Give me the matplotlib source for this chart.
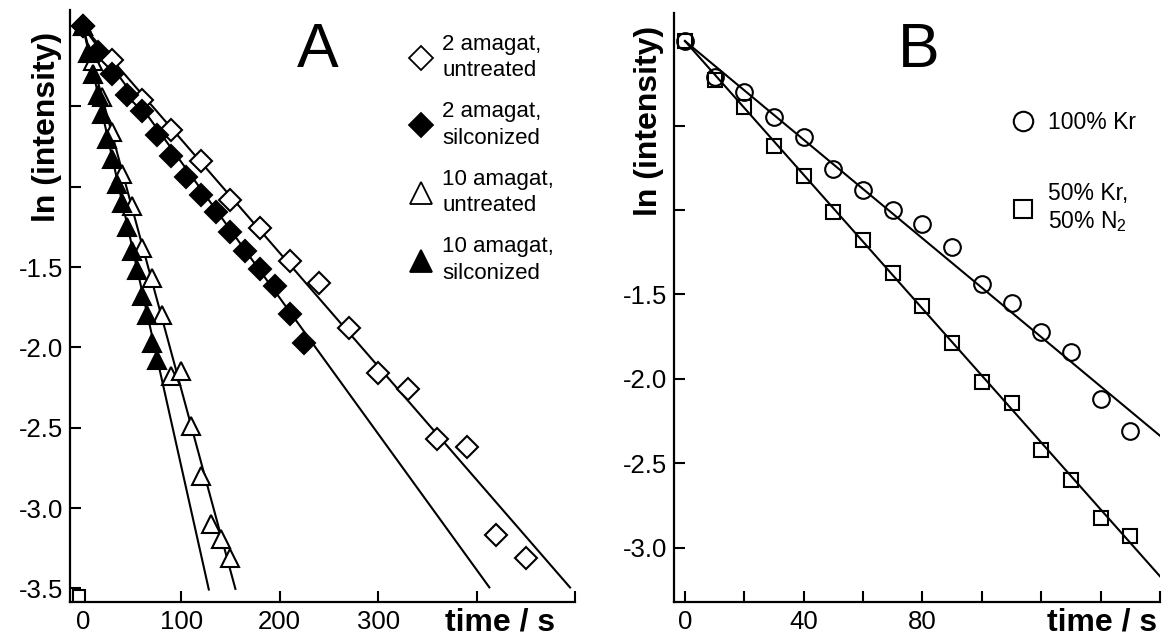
import numpy as np
import matplotlib.pyplot as plt
from matplotlib.lines import Line2D

plt.rcParams['font.family'] = ['Liberation Sans', 'DejaVu Sans']

# ----- Panel A: Xe in cells, ln(intensity) vs time -----
t_2u = [0, 30, 60, 90, 120, 150, 180, 210, 240, 270, 300, 330, 360, 390, 420, 450]
y_2u = [0, -0.21, -0.46, -0.65, -0.84, -1.08, -1.26, -1.46, -1.60, -1.88,
        -2.16, -2.26, -2.57, -2.62, -3.17, -3.31]

t_2s = [0, 15, 30, 45, 60, 75, 90, 105, 120, 135, 150, 165, 180, 195, 210, 225]
y_2s = [0, -0.16, -0.30, -0.43, -0.53, -0.68, -0.81, -0.94, -1.05, -1.16,
        -1.28, -1.40, -1.51, -1.62, -1.79, -1.97]

t_10u = [0, 10, 20, 30, 40, 50, 60, 70, 80, 90, 100, 110, 120, 130, 140, 150]
y_10u = [0, -0.22, -0.44, -0.66, -0.92, -1.12, -1.38, -1.57, -1.80, -2.18,
         -2.15, -2.49, -2.80, -3.10, -3.19, -3.31]

t_10s = [0, 5, 10, 15, 20, 25, 30, 35, 40, 45, 50, 55, 60, 65, 70, 75]
y_10s = [0, -0.17, -0.30, -0.43, -0.55, -0.70, -0.83, -0.98, -1.10, -1.25,
         -1.40, -1.52, -1.68, -1.80, -1.97, -2.08]

# fitted lines: slope, end time
fit_slope_A = [-0.00706, -0.00846, -0.0226, -0.0274]
fit_end_A = [495, 413, 155, 128]

corner_mark = ([-4], [-3.545])

labels_A = ["2 amagat,\nuntreated", "2 amagat,\nsilconized",
            "10 amagat,\nuntreated", "10 amagat,\nsilconized"]

# ----- Panel B: Kr mixtures -----
t_kr = [0, 10, 20, 30, 40, 50, 60, 70, 80, 90, 100, 110, 120, 130, 140, 150]
y_kr = [0, -0.21, -0.30, -0.45, -0.57, -0.76, -0.88, -1.00, -1.08, -1.22,
        -1.44, -1.55, -1.72, -1.84, -2.12, -2.31]

t_mix = [0, 10, 20, 30, 40, 50, 60, 70, 80, 90, 100, 110, 120, 130, 140, 150]
y_mix = [0, -0.23, -0.39, -0.62, -0.80, -1.01, -1.18, -1.37, -1.57, -1.79,
         -2.02, -2.14, -2.42, -2.60, -2.82, -2.93]

fit_slope_B = [-0.0146, -0.0198]
fit_end_B = [160, 160]

labels_B = ["100% Kr", "50% Kr,\n50% N$_\\mathregular{2}$"]

fig = plt.figure(figsize=(11.69, 6.36), dpi=100)
axA = fig.add_axes([70 / 1169, 1 - 602 / 636, 505 / 1169, 592 / 636])
axB = fig.add_axes([674 / 1169, 1 - 602 / 636, 486 / 1169, 589 / 636])

lw = 1.5
styles_A = [dict(marker='D', mfc='white', ms=11),
            dict(marker='D', mfc='black', ms=11),
            dict(marker='^', mfc='white', ms=12.5),
            dict(marker='^', mfc='black', ms=12.5)]
series_A = [(t_2u, y_2u), (t_2s, y_2s), (t_10u, y_10u), (t_10s, y_10s)]

for k in range(len(series_A)):
    tl = np.array([0, fit_end_A[k]])
    axA.plot(tl, fit_slope_A[k] * tl, color='black', lw=lw, zorder=2)
for st, (tt, yy) in zip(styles_A, series_A):
    axA.plot(tt, yy, ls='none', mec='black', mew=lw, zorder=3, **st)
axA.plot(*corner_mark, ls='none', marker='s', ms=8, mfc='white', mec='black', mew=lw)

for k, (tt, yy, st) in enumerate([(t_kr, y_kr, dict(marker='o', ms=12)),
                                   (t_mix, y_mix, dict(marker='s', ms=10.5))]):
    tl = np.array([0, fit_end_B[k]])
    axB.plot(tl, fit_slope_B[k] * tl, color='black', lw=lw, zorder=2)
    axB.plot(tt, yy, ls='none', mfc='none', mec='black', mew=lw, zorder=3, **st)

# axes styling
for ax in (axA, axB):
    for side in ('top', 'right'):
        ax.spines[side].set_visible(False)
    for side in ('left', 'bottom'):
        ax.spines[side].set_linewidth(1.6)
    ax.tick_params(direction='in', length=8, width=1.5, labelsize=18.5)
    ax.tick_params(axis='y', pad=5)
    ax.tick_params(axis='x', pad=6)

axA.set_xlim(-13, 500)
axA.set_ylim(-3.585, 0.1)
axA.set_xticks([0, 100, 200, 300, 400, 500])
axA.set_xticklabels(['0', '100', '200', '300', '', ''])
axA.set_yticks([-3.5, -3.0, -2.5, -2.0, -1.5, -1.0, -0.5])
axA.set_yticklabels(['-3.5', '-3.0', '-2.5', '-2.0', '-1.5', '', ''])

axB.set_xlim(-3.7, 160)
axB.set_ylim(-3.32, 0.166)
axB.set_xticks([0, 20, 40, 60, 80, 100, 120, 140, 160])
axB.set_xticklabels(['0', '', '40', '', '80', '', '', '', ''])
axB.set_yticks([-3.0, -2.5, -2.0, -1.5, -1.0, -0.5])
axB.set_yticklabels(['-3.0', '-2.5', '-2.0', '-1.5', '', ''])

# labels
axA.text(-0.0455, 0.802, 'ln (intensity)', transform=axA.transAxes, rotation=90,
         ha='center', va='center', fontsize=23, fontweight='bold')
axB.text(-0.0514, 0.817, 'ln (intensity)', transform=axB.transAxes, rotation=90,
         ha='center', va='center', fontsize=23, fontweight='bold')
axA.text(0.851, -0.034, 'time / s', transform=axA.transAxes,
         ha='center', va='center', fontsize=23, fontweight='bold')
axB.text(0.881, -0.034, 'time / s', transform=axB.transAxes,
         ha='center', va='center', fontsize=23, fontweight='bold')
axA.text(0.491, 0.932, 'A', transform=axA.transAxes, ha='center', va='center', fontsize=45)
axB.text(0.504, 0.937, 'B', transform=axB.transAxes, ha='center', va='center', fontsize=45)

# legends
leg_ms_A = [12, 12, 15.5, 15.5]
hA = [Line2D([], [], ls='none', mec='black', mew=1.3,
             marker=st['marker'], mfc=st['mfc'], ms=m) for st, m in zip(styles_A, leg_ms_A)]
legA = axA.legend(hA, labels_A, loc='upper left', bbox_to_anchor=(0.673, 0.96),
                  frameon=False, fontsize=16, handlelength=1.0, handletextpad=0.45,
                  labelspacing=0.9, borderpad=0, borderaxespad=0)
for txt in legA.get_texts():
    txt.set_linespacing(1.35)

hB = [Line2D([], [], ls='none', marker='o', ms=14, mfc='none', mec='black', mew=1.5),
      Line2D([], [], ls='none', marker='s', ms=12.5, mfc='none', mec='black', mew=1.5)]
legB = axB.legend(hB, labels_B, loc='upper left', bbox_to_anchor=(0.695, 0.833),
                  frameon=False, fontsize=16.5, handlelength=1.0, handletextpad=0.6,
                  labelspacing=2.1, borderpad=0, borderaxespad=0)
for txt in legB.get_texts():
    txt.set_linespacing(1.2)

fig.savefig('out.png', dpi=100)
